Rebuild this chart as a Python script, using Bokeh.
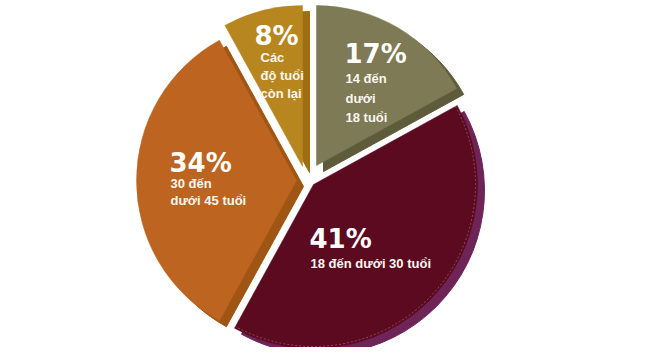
import math
from bokeh.plotting import figure
from bokeh.models import Range1d, ColumnDataSource
from bokeh.embed import file_html
from bokeh.resources import INLINE
from bokeh.core.properties import value

# ---- data ----
shares = [17, 41, 34, 8]
names = ["14 đến\ndưới\n18 tuổi", "18 đến dưới 30 tuổi", "30 đến\ndưới 45 tuổi", "Các\nđộ tuổi\ncòn lại"]

# ---- styles / layout (pixel units of the picture) ----
face_colors = ["#7d7a55", "#5b0a1f", "#bd6520", "#b8861e"]
side_colors = ["#5e5b3b", "#6e2456", "#9f5513", "#9e6e12"]
center = (308, 179)
offsets = [(8, -14), (5, 5), (-12, 1), (-6, -13)]   # exploded apex offsets
radius = [160, 164, 160, 161]
depth = (7, 6)               # extrusion (right, down)
pct_pos = [(344, 53), (309, 238), (169, 162), (254, 35)]
sub_pos = [(345, 78), (310, 263), (170, 183), (260, 57)]
sub_step = [19.5, 19, 17, 18]

W, H = 629, 347


def Y(py):
    return H - py


p = figure(width=W, height=H, x_range=Range1d(0, W), y_range=Range1d(0, H),
           output_backend="svg", toolbar_location=None, min_border=0)
p.axis.visible = False
p.grid.visible = False
p.outline_line_color = None
p.background_fill_color = "white"
p.border_fill_color = "white"

total = float(sum(shares))
cum = 0.0
rows = []
for i, v in enumerate(shares):
    t1 = cum / total * 2 * math.pi
    t2 = (cum + v) / total * 2 * math.pi
    cum += v
    ax = center[0] + offsets[i][0]
    ay = Y(center[1] + offsets[i][1])
    rows.append(dict(x=ax, y=ay, r=radius[i], sa=math.pi / 2 - t1, ea=math.pi / 2 - t2,
                     face=face_colors[i], side=side_colors[i]))

side_src = ColumnDataSource(dict(
    x=[r["x"] + depth[0] for r in rows], y=[r["y"] - depth[1] for r in rows],
    r=[r["r"] for r in rows], sa=[r["sa"] for r in rows], ea=[r["ea"] for r in rows],
    c=[r["side"] for r in rows]))
face_src = ColumnDataSource(dict(
    x=[r["x"] for r in rows], y=[r["y"] for r in rows],
    r=[r["r"] for r in rows], sa=[r["sa"] for r in rows], ea=[r["ea"] for r in rows],
    c=[r["face"] for r in rows]))

p.wedge(x="x", y="y", radius="r", start_angle="sa", end_angle="ea", direction="clock",
        fill_color="c", line_color="c", line_width=1, source=side_src)
p.wedge(x="x", y="y", radius="r", start_angle="sa", end_angle="ea", direction="clock",
        fill_color="c", line_color="c", line_width=0.5, source=face_src)

# subtle dashed highlight along the outer rim of the large slice
m = rows[1]
p.arc(x=[m["x"]], y=[m["y"]], radius=[m["r"] - 2], start_angle=[m["sa"]], end_angle=[m["ea"]],
      direction="clock", line_color="#e8c0d0", line_alpha=0.35, line_width=1, line_dash="2 2")

# labels
px, py, pt = [], [], []
sx, sy, st = [], [], []
for i, v in enumerate(shares):
    px.append(pct_pos[i][0]); py.append(Y(pct_pos[i][1])); pt.append(f"{v}%")
    for j, line in enumerate(names[i].split("\n")):
        sx.append(sub_pos[i][0]); sy.append(Y(sub_pos[i][1] + j * sub_step[i])); st.append(line)

p.text(x=px, y=py, text=pt, text_font=value("DejaVu Sans"), text_font_size="26px",
       text_font_style="bold", text_color="white", text_baseline="alphabetic", text_align="left")
p.text(x=sx, y=sy, text=st, text_font=value("Liberation Sans"), text_font_size="13px",
       text_font_style="bold", text_color="#fbf6f0", text_baseline="alphabetic", text_align="left")

open("out.html", "w").write(file_html(p, INLINE))
